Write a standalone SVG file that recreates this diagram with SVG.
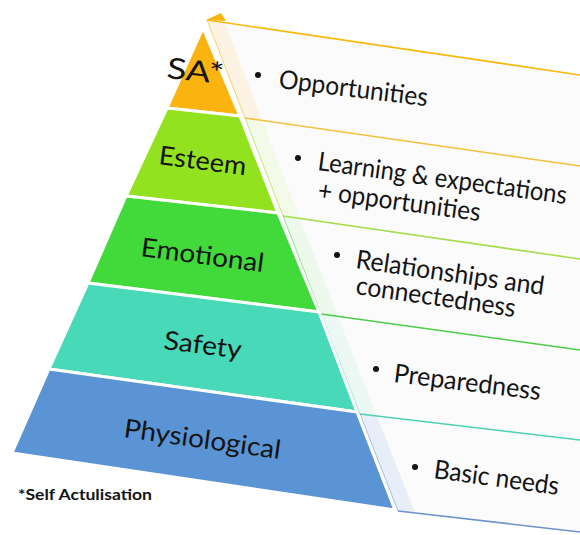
<svg xmlns="http://www.w3.org/2000/svg" width="580" height="535" viewBox="0 0 580 535">
  <style>
    .layer { stroke: #ffffff; stroke-width: 3; stroke-linejoin: round; }
    .lbl { font-family: Lato, "Open Sans", "Liberation Sans", sans-serif; font-size: 26px; fill: #141414; }
    .panel { fill: #fbfbfb; }
    .edge { fill: none; stroke-width: 1; opacity: 0.6; }
    .div { fill: none; stroke-width: 1.6; }
    .dot { fill: #141414; }
    .note { font-family: Lato, "Open Sans", "Liberation Sans", sans-serif; font-size: 15px; font-weight: bold; fill: #141414; }
  </style>

  <rect width="580" height="535" fill="#ffffff"/>

  <!-- side panels: one slanted band per level -->
  <g id="panels">
    <g id="panel-sa">
      <polygon class="panel" points="207,20 580,75 580,166 245,118"/>
      <polygon fill="#fdf3e3" points="207,20 225,22.6 262,120.5 245,118"/>
      <line class="edge" stroke="#f3b51a" x1="207" y1="20" x2="245" y2="118"/>
      <circle class="dot" cx="258" cy="75" r="3"/>
      <text class="lbl" transform="translate(278,88) rotate(7)" textLength="150" lengthAdjust="spacingAndGlyphs">Opportunities</text>
    </g>
    <g id="panel-esteem">
      <polygon class="panel" points="245,118 580,166 580,259 283,216"/>
      <polygon fill="#f3faea" points="245,118 262,120.5 300,218.5 283,216"/>
      <line class="edge" stroke="#98dd2a" x1="245" y1="118" x2="283" y2="216"/>
      <circle class="dot" cx="298" cy="158" r="3"/>
      <text class="lbl" transform="translate(317,170) rotate(7.8)" textLength="251" lengthAdjust="spacingAndGlyphs">Learning &amp; expectations</text>
      <text class="lbl" transform="translate(317,199) rotate(7.8)" textLength="164" lengthAdjust="spacingAndGlyphs">+ opportunities</text>
    </g>
    <g id="panel-emotional">
      <polygon class="panel" points="283,216 580,259 580,350 321,314"/>
      <polygon fill="#edf9ec" points="283,216 300,218.5 338,316.5 321,314"/>
      <line class="edge" stroke="#49d545" x1="283" y1="216" x2="321" y2="314"/>
      <circle class="dot" cx="337" cy="255" r="3"/>
      <text class="lbl" transform="translate(355,268) rotate(8.2)" textLength="190" lengthAdjust="spacingAndGlyphs">Relationships and</text>
      <text class="lbl" transform="translate(355,294) rotate(8.2)" textLength="161" lengthAdjust="spacingAndGlyphs">connectedness</text>
    </g>
    <g id="panel-safety">
      <polygon class="panel" points="321,314 580,350 580,440 360,414"/>
      <polygon fill="#ebf8f4" points="321,314 338,316.5 377,416.2 360,414"/>
      <line class="edge" stroke="#4fd8b8" x1="321" y1="314" x2="360" y2="414"/>
      <circle class="dot" cx="376" cy="369" r="3"/>
      <text class="lbl" transform="translate(393,382) rotate(7)" textLength="148" lengthAdjust="spacingAndGlyphs">Preparedness</text>
    </g>
    <g id="panel-physiological">
      <polygon class="panel" points="360,414 580,440 580,532 398,511"/>
      <polygon fill="#e8eef7" points="360,414 377,416.2 415,513 398,511"/>
      <line class="edge" stroke="#6f97d2" x1="360" y1="414" x2="398" y2="511"/>
      <circle class="dot" cx="415" cy="467" r="3"/>
      <text class="lbl" transform="translate(433,478) rotate(7.7)" textLength="126" lengthAdjust="spacingAndGlyphs">Basic needs</text>
    </g>
  </g>

  <!-- coloured rules separating the panels -->
  <g id="connectors">
    <polygon fill="#f7b50c" points="206,20 221,13 226,21"/>
    <line class="div" stroke="#f6b90c" stroke-width="3" x1="207" y1="20" x2="580" y2="75"/>
    <line class="div" stroke="#f0c23c" x1="245" y1="118" x2="580" y2="166"/>
    <line class="div" stroke="#a6dc4e" x1="283" y1="216" x2="580" y2="259"/>
    <line class="div" stroke="#4ccc4a" x1="321" y1="314" x2="580" y2="350"/>
    <line class="div" stroke="#4fd0b2" x1="360" y1="414" x2="580" y2="440"/>
    <line class="div" stroke="#6f93cf" x1="398" y1="511" x2="580" y2="532"/>
  </g>

  <!-- pyramid levels -->
  <g id="level-sa">
    <polygon class="layer" fill="#fbb40f" points="203,28 240,116 167,108"/>
    <text class="lbl" style="font-size:29px" transform="translate(166,78) rotate(6)" textLength="57" lengthAdjust="spacingAndGlyphs">SA*</text>
  </g>
  <g id="level-esteem">
    <polygon class="layer" fill="#93e21f" points="167,108 240,116 278,213 126,196"/>
    <text class="lbl" transform="translate(158,164) rotate(7.5)" textLength="88" lengthAdjust="spacingAndGlyphs">Esteem</text>
  </g>
  <g id="level-emotional">
    <polygon class="layer" fill="#42d93b" points="126,196 278,213 319,312 88,283"/>
    <text class="lbl" transform="translate(140,256) rotate(7.5)" textLength="124" lengthAdjust="spacingAndGlyphs">Emotional</text>
  </g>
  <g id="level-safety">
    <polygon class="layer" fill="#48d9b8" points="88,283 319,312 357,412 49,369"/>
    <text class="lbl" transform="translate(163,349) rotate(7)" textLength="78" lengthAdjust="spacingAndGlyphs">Safety</text>
  </g>
  <g id="level-physiological">
    <polygon class="layer" fill="#5b94d4" points="49,369 357,412 395,510 12,453"/>
    <text class="lbl" transform="translate(123,437) rotate(8)" textLength="158" lengthAdjust="spacingAndGlyphs">Physiological</text>
  </g>

  <text class="note" x="18" y="500" textLength="134" lengthAdjust="spacingAndGlyphs">*Self Actulisation</text>
</svg>
